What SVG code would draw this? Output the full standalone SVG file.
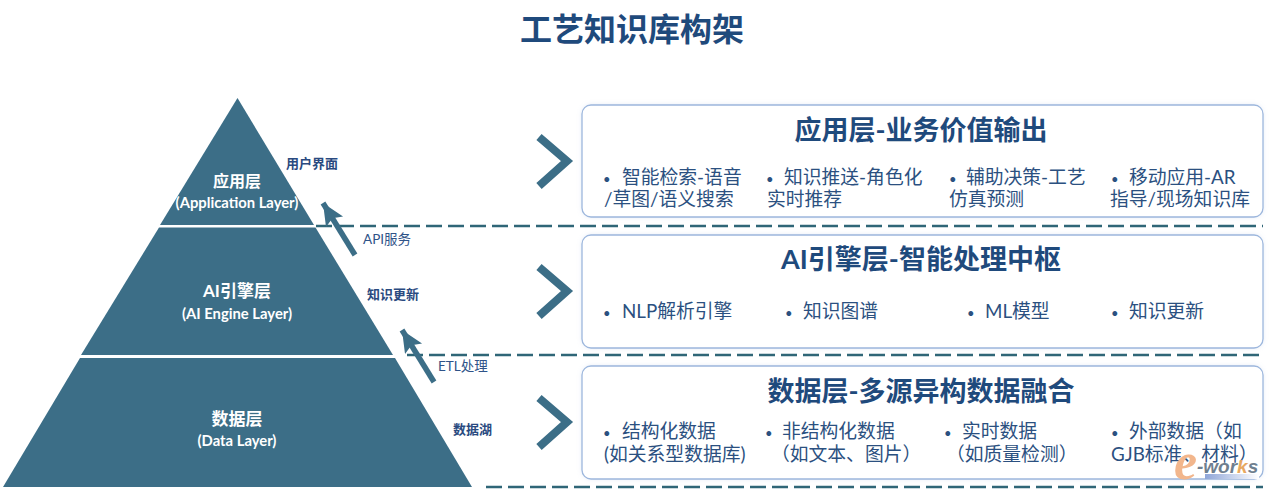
<svg xmlns="http://www.w3.org/2000/svg" width="1269" height="490" viewBox="0 0 1269 490">
<defs>
<marker id="ah" markerUnits="userSpaceOnUse" markerWidth="24" markerHeight="22" refX="22" refY="10" orient="auto"><path d="M0,0 L22,10 L0,20 L4,10 Z" fill="#3c6e87"/></marker>
<linearGradient id="wm" x1="0" x2="1"><stop offset="0" stop-color="#8fa6d8"/><stop offset="1" stop-color="#ffffff"/></linearGradient>
<filter id="sh" x="-2%" y="-5%" width="104%" height="110%"><feDropShadow dx="0" dy="0" stdDeviation="2" flood-color="#9db7dd" flood-opacity="0.25"/></filter>
</defs>
<style>
text{font-family:"Lato","Noto Sans CJK SC",sans-serif;}
.title{font-size:32px;font-weight:700;fill:#1f4a7c;text-anchor:middle}
.tier{fill:#3c6e87}
.lt{font-size:16px;font-weight:700;fill:#fff;text-anchor:middle}
.ls{font-size:14.8px;font-weight:700;fill:#fff;text-anchor:middle}
.sl{font-size:13px;font-weight:700;fill:#2a4a80}
.cl{font-size:13.5px;fill:#2f5388}
.dash{stroke:#2f6677;stroke-width:2.5;stroke-dasharray:16 6;fill:none}
.chev{stroke:#3c6e87;stroke-width:8;fill:none}
.arr{stroke:#3c6e87;stroke-width:5.5;fill:none;marker-end:url(#ah)}
.box{fill:#fff;stroke:#9db7dd;stroke-width:1.3;filter:url(#sh)}
.h{font-size:27px;font-weight:700;fill:#1f4a7c;text-anchor:middle}
.b{font-size:18.8px;fill:#2b5080}
.d{font-size:13px}
</style>
<text class="title" x="632" y="41">工艺知识库构架</text>
<g id="pyramid">
<g id="tier-app"><path class="tier" d="M237.500,98 L314,225 L160,225 Z"/><text class="lt" x="237" y="187">应用层</text><text class="ls" x="237" y="208">(Application Layer)</text></g>
<g id="tier-ai"><path class="tier" d="M159,227.500 L315.500,227.500 L393,355 L81,355 Z"/><text class="lt" x="237" y="297" style="font-size:17px">AI引擎层</text><text class="ls" x="237" y="319">(AI Engine Layer)</text></g>
<g id="tier-data"><path class="tier" d="M80,358 L395,358 L472,487 L3,487 Z"/><text class="lt" x="237" y="425" style="font-size:17px">数据层</text><text class="ls" x="237" y="446">(Data Layer)</text></g>
</g>
<g id="connectors">
<path class="dash" d="M316,226 H1263"/>
<path class="dash" d="M407,355 H1263"/>
<path class="dash" d="M486,487 H1263"/>
<path class="arr" d="M355,255 L323,203"/>
<path class="arr" d="M434,382 L402,330"/>
<path class="chev" d="M539,137 L567,161 L539,186"/>
<path class="chev" d="M539,267 L567,291 L539,316"/>
<path class="chev" d="M539,398 L567,422 L539,447"/>
</g>
<text class="sl" x="286" y="168">用户界面</text>
<text class="sl" x="367" y="299">知识更新</text>
<text class="sl" x="453" y="434">数据湖</text>
<text class="cl" x="363" y="244">API服务</text>
<text class="cl" x="438" y="371">ETL处理</text>
<g id="box-app"><rect class="box" x="582" y="105" width="681" height="112" rx="9"/>
<text class="h" x="921" y="140">应用层-业务价值输出</text>
<text class="b" x="603" y="184"><tspan class="d">•</tspan><tspan x="622">智能检索-语音</tspan></text><text class="b" x="604" y="206">/草图/语义搜索</text>
<text class="b" x="766" y="184"><tspan class="d">•</tspan><tspan x="784">知识推送-角色化</tspan></text><text class="b" x="767" y="206">实时推荐</text>
<text class="b" x="949" y="184"><tspan class="d">•</tspan><tspan x="966">辅助决策-工艺</tspan></text><text class="b" x="949" y="206">仿真预测</text>
<text class="b" x="1111" y="184"><tspan class="d">•</tspan><tspan x="1129">移动应用-AR</tspan></text><text class="b" x="1110" y="206">指导/现场知识库</text></g>
<g id="box-ai"><rect class="box" x="582" y="235" width="681" height="113" rx="9"/>
<text class="h" x="921" y="269">AI引擎层-智能处理中枢</text>
<text class="b" x="603" y="318"><tspan class="d">•</tspan><tspan x="622">NLP解析引擎</tspan></text>
<text class="b" x="785" y="318"><tspan class="d">•</tspan><tspan x="803">知识图谱</tspan></text>
<text class="b" x="967" y="318"><tspan class="d">•</tspan><tspan x="985">ML模型</tspan></text>
<text class="b" x="1111" y="318"><tspan class="d">•</tspan><tspan x="1129">知识更新</tspan></text></g>
<g id="box-data"><rect class="box" x="582" y="366" width="681" height="113" rx="9"/>
<text class="h" x="921" y="401">数据层-多源异构数据融合</text>
<text class="b" x="603" y="438"><tspan class="d">•</tspan><tspan x="622">结构化数据</tspan></text><text class="b" x="604" y="461">(如关系型数据库)</text>
<text class="b" x="765" y="438"><tspan class="d">•</tspan><tspan x="782">非结构化数据</tspan></text><text class="b" x="771" y="461">（如文本、图片）</text>
<text class="b" x="944" y="438"><tspan class="d">•</tspan><tspan x="962">实时数据</tspan></text><text class="b" x="946" y="461">（如质量检测）</text>
<text class="b" x="1111" y="438"><tspan class="d">•</tspan><tspan x="1129">外部数据（如</tspan></text><text class="b" x="1111" y="461">GJB标准、材料）</text></g>
<g id="watermark">
<rect x="1205" y="474" width="54" height="5" fill="url(#wm)"/>
<text x="1174" y="479" font-size="52" font-style="italic" font-weight="700" fill="#f2b68c" style="font-family:'Liberation Serif',serif">e</text>
<text x="1197" y="473" font-size="19" font-style="italic" font-weight="700" fill="#6f7f8f" style="font-family:'Liberation Sans',sans-serif">-wor<tspan fill="#e8a860">k</tspan>s</text>
</g>
</svg>
